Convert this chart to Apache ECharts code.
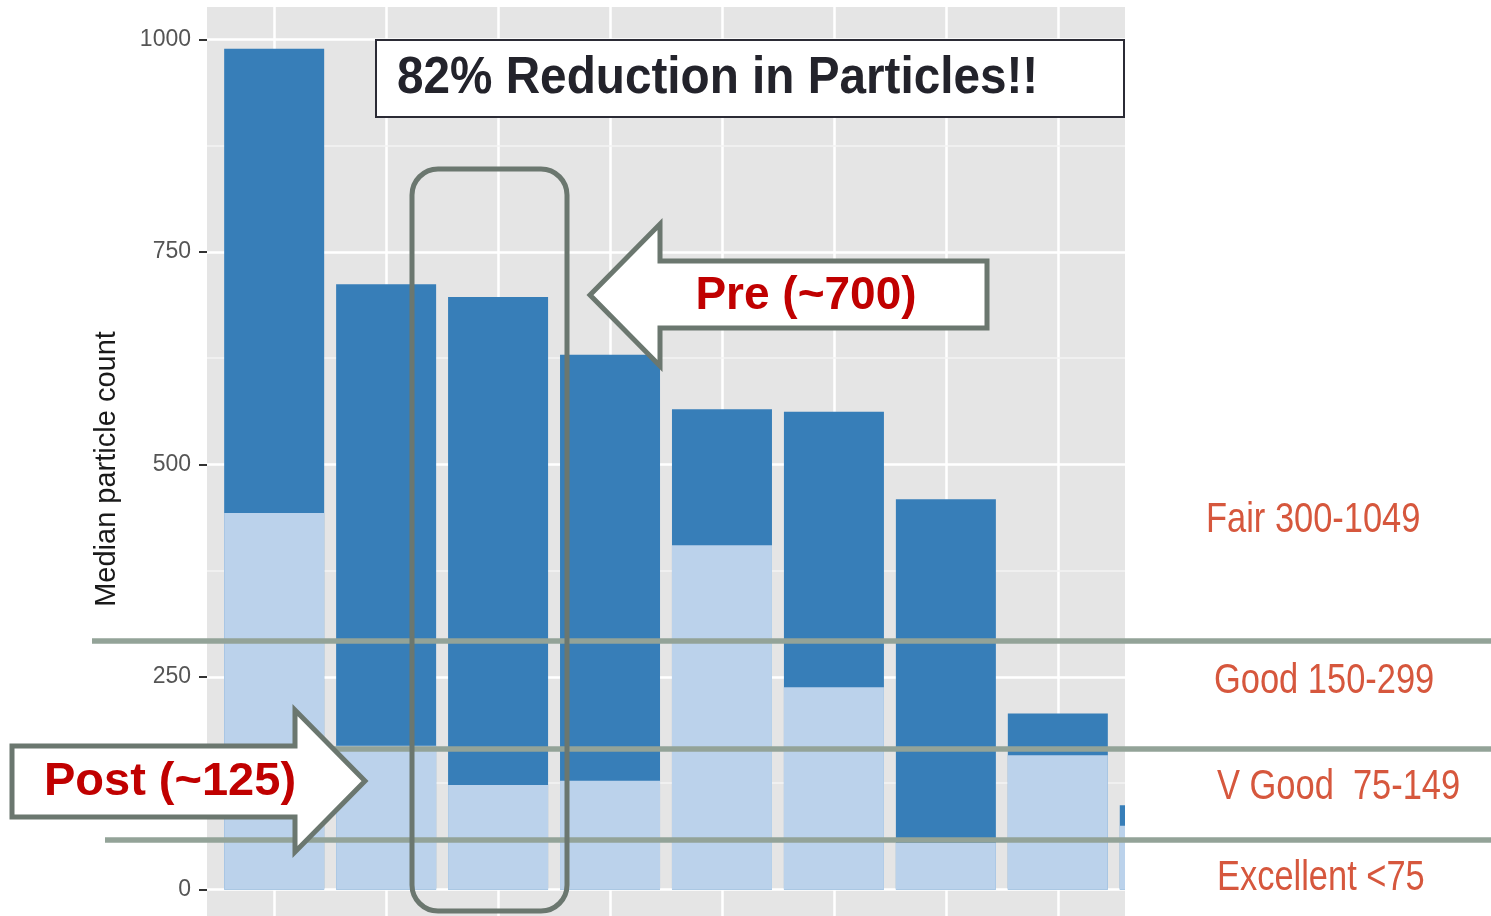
<!DOCTYPE html>
<html>
<head>
<meta charset="utf-8">
<script src="https://cdn.jsdelivr.net/npm/echarts@6/dist/echarts.min.js"></script>
<style>
html,body{margin:0;padding:0;background:#fff;}
#chart{width:1491px;height:916px;}
</style>
</head>
<body>
<div id="chart"></div>
<script>
// ---- data ----
const categories = ['1', '2', '3', '4', '5', '6', '7', '8', '9'];
const preValues  = [989, 712, 697, 629, 565, 562, 459, 207, 99];
const postValues = [443, 169, 123, 128, 405, 238, 55, 158, 75];
const yTickValues = [0, 250, 500, 750, 1000];
const yAxisTitle = 'Median particle count';
const titleText = '82% Reduction in Particles!!';
const preLabel = 'Pre (~700)';
const postLabel = 'Post (~125)';
const bandLabels = ['Fair 300-1049', 'Good 150-299', 'V Good  75-149', 'Excellent <75'];

// ---- axis extents (ggplot-style expansion, panel cropped) ----
const X_MIN = 0.4, X_MAX = 8.6;
const Y_MIN = -31.2, Y_MAX = 1038.2;

const chart = echarts.init(document.getElementById('chart'), null, {renderer: 'canvas'});

const xs = categories.map((c, i) => i + 1);
const preData = xs.map((x, i) => [x, preValues[i]]);
const postData = xs.map((x, i) => [x, postValues[i]]);
const yMinorValues = yTickValues.slice(0, -1).map((v, i) => (v + yTickValues[i + 1]) / 2);

const bandColor = '#d6573d';
const arrowStroke = '#6b776f';
const bandLine = '#93a398';
const sans = '"Liberation Sans", Arial, sans-serif';

const gridLines = []
  .concat(xs.filter(x => x <= X_MAX).map(x => ({xAxis: x, lineStyle: {color: '#ffffff', width: 2.5, type: 'solid'}})))
  .concat(yTickValues.map(v => ({yAxis: v, lineStyle: {color: '#ffffff', width: 2.5, type: 'solid'}})))
  .concat(yMinorValues.map(v => ({yAxis: v, lineStyle: {color: '#f3f3f3', width: 1.5, type: 'solid'}})));

function bandText(i, x, y) {
  return {type: 'text', x: x, y: y, scaleX: 0.82, z: 60,
    style: {text: bandLabels[i], font: '42px ' + sans, fill: bandColor, textAlign: 'left', textVerticalAlign: 'middle'}};
}

const option = {
  animation: false,
  backgroundColor: '#ffffff',
  grid: {
    left: 207, top: 7, width: 918, height: 909,
    show: true, backgroundColor: '#e5e5e5', borderWidth: 0
  },
  xAxis: {
    type: 'value', min: X_MIN, max: X_MAX,
    axisLine: {show: false}, axisTick: {show: false}, axisLabel: {show: false},
    splitLine: {show: false}
  },
  yAxis: {
    type: 'value', min: Y_MIN, max: Y_MAX,
    axisLine: {show: false},
    axisTick: {show: true, length: 8, lineStyle: {color: '#333', width: 2}, customValues: yTickValues},
    axisLabel: {margin: 16, fontFamily: sans, fontSize: 23, color: '#555', customValues: yTickValues,
      formatter: v => String(Math.round(v))},
    splitLine: {show: false},
    minorSplitLine: {show: false}
  },
  series: [
    {
      type: 'scatter', data: [], silent: true, z: 1,
      markLine: {
        silent: true, symbol: ['none', 'none'], z: 1,
        label: {show: false},
        data: gridLines
      }
    },
    {
      name: 'Pre', type: 'bar', data: preData, barWidth: 100, barGap: '-100%',
      itemStyle: {color: '#377eb8'}, z: 5, clip: true
    },
    {
      name: 'Post', type: 'bar', data: postData, barWidth: 100, barGap: '-100%',
      itemStyle: {color: '#bbd2eb'}, z: 6, clip: true
    }
  ],
  graphic: [
    // y axis title
    {type: 'text', x: 107, y: 469, rotation: Math.PI / 2, z: 40,
      style: {text: yAxisTitle, font: '29px ' + sans, fill: '#1a1a1a', textAlign: 'center', textVerticalAlign: 'middle'}},
    // panel crop on the right
    {type: 'rect', shape: {x: 1125, y: 0, width: 140, height: 916}, style: {fill: '#ffffff'}, z: 50, silent: true},
    // band lines
    {type: 'line', shape: {x1: 92, y1: 641, x2: 1491, y2: 641}, style: {stroke: bandLine, lineWidth: 5.5}, z: 60},
    {type: 'line', shape: {x1: 10, y1: 749, x2: 1491, y2: 749}, style: {stroke: bandLine, lineWidth: 5.5}, z: 60},
    {type: 'line', shape: {x1: 105, y1: 840, x2: 1491, y2: 840}, style: {stroke: bandLine, lineWidth: 5.5}, z: 60},
    // band labels
    bandText(0, 1206, 520),
    bandText(1, 1214, 681),
    bandText(2, 1217, 787),
    bandText(3, 1217, 878),
    // rounded highlight box
    {type: 'rect', shape: {x: 412, y: 169, width: 155, height: 742, r: 26}, style: {fill: 'none', stroke: arrowStroke, lineWidth: 5}, z: 70},
    // title box
    {type: 'rect', shape: {x: 376, y: 40, width: 748, height: 77}, style: {fill: '#ffffff', stroke: '#2b2b35', lineWidth: 2}, z: 80},
    {type: 'text', x: 397, y: 79, scaleX: 0.917, z: 81,
      style: {text: titleText, font: 'bold 52px ' + sans, fill: '#23232b', textAlign: 'left', textVerticalAlign: 'middle'}},
    // Pre arrow
    {type: 'polygon', shape: {points: [[590, 295], [660, 224], [660, 261], [987, 261], [987, 328], [660, 328], [660, 366]]},
      style: {fill: '#ffffff', stroke: arrowStroke, lineWidth: 5}, z: 80},
    {type: 'text', x: 806, y: 296, z: 81,
      style: {text: preLabel, font: 'bold 46px ' + sans, fill: '#c00000', textAlign: 'center', textVerticalAlign: 'middle'}},
    // Post arrow
    {type: 'polygon', shape: {points: [[12, 746], [295, 746], [295, 710], [365, 781], [295, 852], [295, 817], [12, 817]]},
      style: {fill: '#ffffff', stroke: arrowStroke, lineWidth: 5}, z: 80},
    {type: 'text', x: 170, y: 782, z: 81,
      style: {text: postLabel, font: 'bold 47px ' + sans, fill: '#c00000', textAlign: 'center', textVerticalAlign: 'middle'}}
  ]
};
chart.setOption(option);
</script>
</body>
</html>
